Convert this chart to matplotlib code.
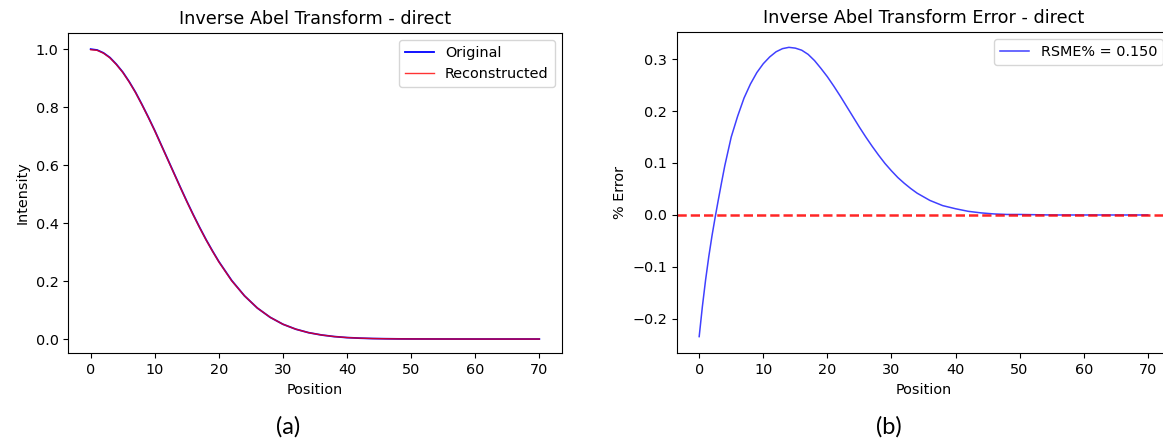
import matplotlib.pyplot as plt
import numpy as np

# values
pos = [0, 1, 2, 3, 4, 5, 6, 7, 8, 9, 10, 11, 12, 13, 14, 15, 16, 17, 18, 19,
       20, 22, 24, 26, 28, 30, 32, 34, 36, 38, 40, 42, 44, 46, 48, 50, 55, 60,
       65, 70]
original = [1.000, 0.997, 0.987, 0.971, 0.948, 0.921, 0.888, 0.851, 0.809,
            0.765, 0.719, 0.670, 0.621, 0.572, 0.523, 0.475, 0.429, 0.385,
            0.343, 0.304, 0.267, 0.202, 0.149, 0.107, 0.075, 0.051, 0.034,
            0.022, 0.014, 0.0085, 0.005, 0.003, 0.0017, 0.001, 0.0005, 0.0003,
            0.0001, 0.0, 0.0, 0.0]
reconstructed = [0.998, 0.996, 0.986, 0.970, 0.947, 0.920, 0.887, 0.850, 0.808,
                 0.764, 0.718, 0.669, 0.620, 0.571, 0.522, 0.474, 0.428, 0.384,
                 0.342, 0.303, 0.266, 0.201, 0.149, 0.107, 0.075, 0.051, 0.034,
                 0.022, 0.014, 0.0085, 0.005, 0.003, 0.0017, 0.001, 0.0005,
                 0.0003, 0.0001, 0.0, 0.0, 0.0]

err_pos = [0, 0.5, 1, 1.5, 2, 2.5, 3, 3.5, 4, 5, 6, 7, 8, 9, 10, 11, 12, 13,
           14, 15, 16, 17, 18, 19, 20, 21, 22, 23, 24, 25, 26, 27, 28, 29, 30,
           31, 32, 33, 34, 35, 36, 37, 38, 39, 40, 42, 44, 46, 48, 50, 55, 60,
           65, 70]
err = [-0.234, -0.176, -0.125, -0.080, -0.040, -0.004, 0.030, 0.063, 0.095,
       0.150, 0.190, 0.225, 0.252, 0.274, 0.291, 0.304, 0.314, 0.320, 0.3225,
       0.321, 0.317, 0.309, 0.297, 0.282, 0.266, 0.248, 0.229, 0.209, 0.189,
       0.169, 0.150, 0.132, 0.115, 0.099, 0.085, 0.072, 0.061, 0.051, 0.042,
       0.035, 0.028, 0.023, 0.018, 0.015, 0.012, 0.007, 0.004, 0.002, 0.001,
       0.001, 0.0, 0.0, 0.0, 0.0]
rsme = 0.150

plt.rcParams['font.size'] = 10.4

fig = plt.figure(figsize=(11.63, 4.41), dpi=100)

# (a) original vs reconstructed
ax1 = fig.add_axes([0.0587, 0.199, 0.4243, 0.727])
ax1.plot(pos, original, color='blue', lw=1.3, label='Original')
ax1.plot(pos, reconstructed, color='red', lw=1.0, alpha=0.8, label='Reconstructed')
ax1.set_xlim(-3.5, 73.5)
ax1.set_ylim(-0.049, 1.057)
ax1.set_title('Inverse Abel Transform - direct', fontsize=12.7)
ax1.set_xlabel('Position')
ax1.set_ylabel('Intensity')
ax1.legend(loc='upper right')

# (b) error
ax2 = fig.add_axes([0.5819, 0.199, 0.4243, 0.729])
ax2.plot(err_pos, err, color='blue', lw=1.1, alpha=0.75,
         label='RSME%% = %.3f' % rsme)
ax2.axhline(0, color='red', ls='--', lw=1.8, alpha=0.85)
ax2.set_xlim(-3.5, 73.5)
ax2.set_ylim(-0.266, 0.3525)
ax2.set_title('Inverse Abel Transform Error - direct', fontsize=12.7)
ax2.set_xlabel('Position')
ax2.set_ylabel('% Error')
ax2.legend(loc='upper right')

fig.text(0.248, 0.033, '(a)', ha='center', va='center', fontsize=17, family='Lato')
fig.text(0.7644, 0.033, '(b)', ha='center', va='center', fontsize=17, family='Lato')

fig.savefig('out.png', dpi=100)
